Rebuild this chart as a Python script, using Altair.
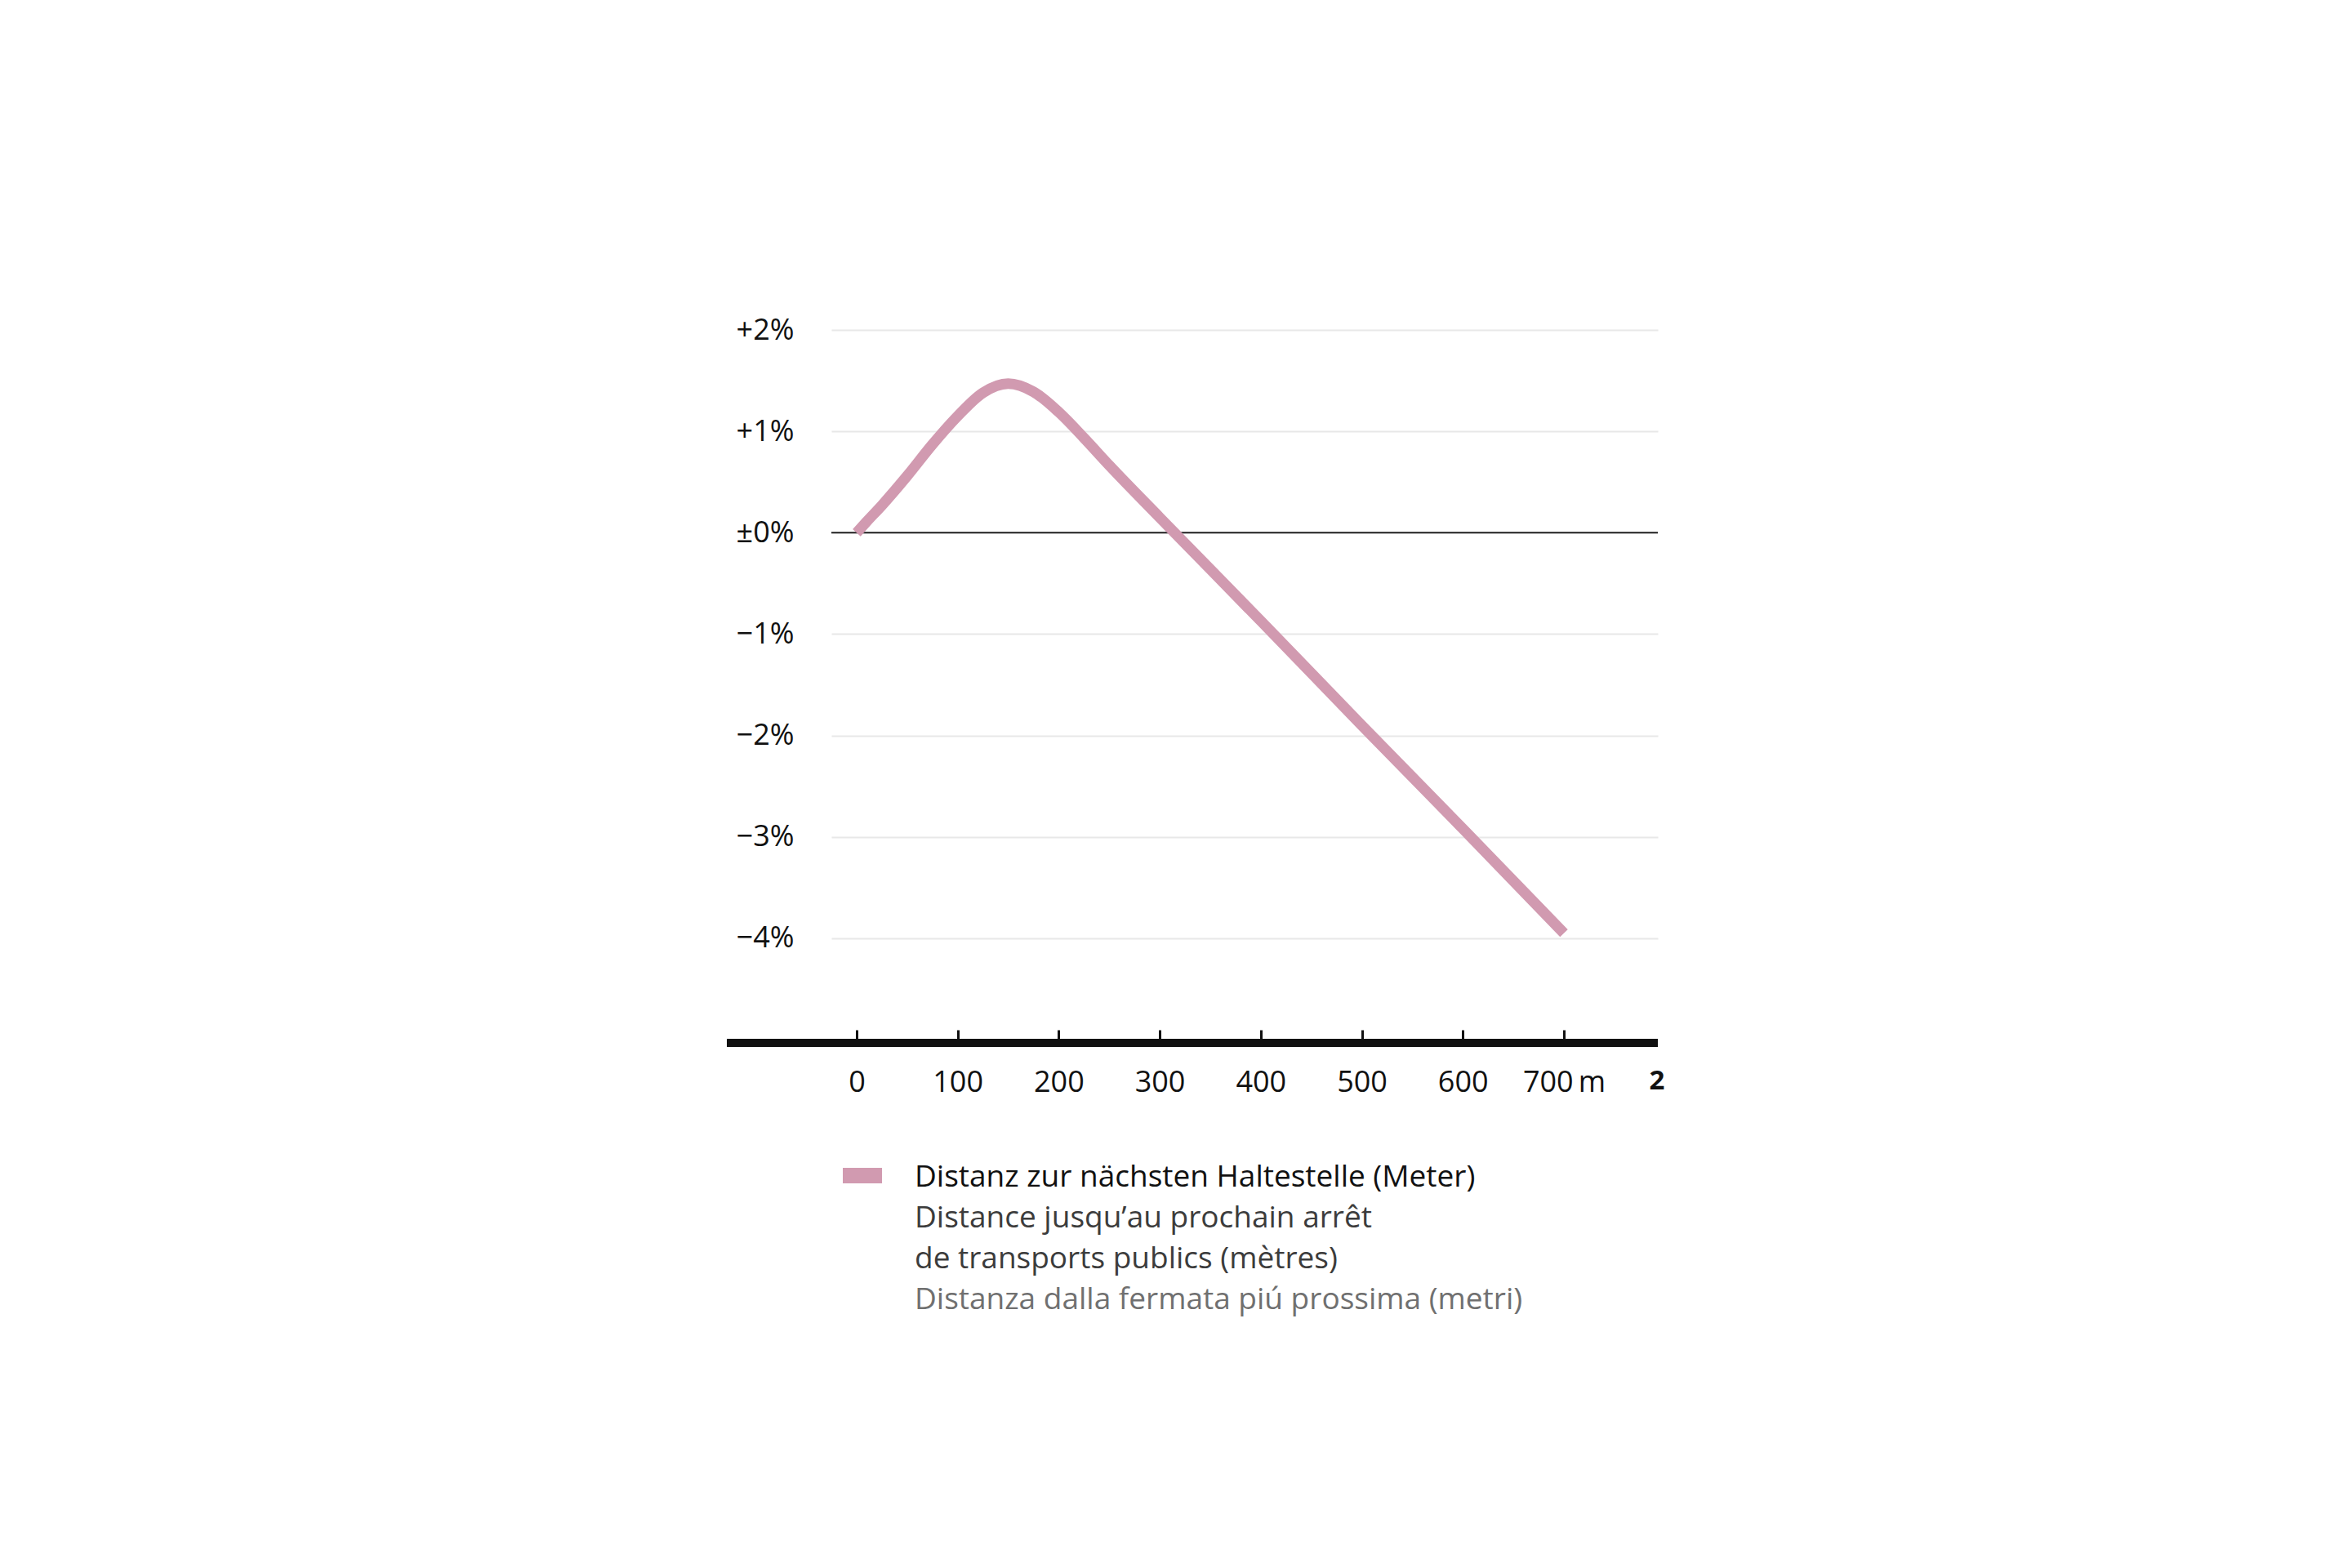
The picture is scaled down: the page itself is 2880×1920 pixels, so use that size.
import altair as alt
import pandas as pd

# ---- data ----
distance = [0, 10, 25, 50, 75, 100, 125, 150, 175, 200, 225, 250, 300, 400, 500, 600, 700]
change = [0.0, 0.11, 0.27, 0.56, 0.87, 1.15, 1.38, 1.47, 1.39, 1.19, 0.935, 0.665, 0.15, -0.87, -1.90, -2.92, -3.95]

x_ticks = [0, 100, 200, 300, 400, 500, 600, 700]
x_unit = "m"
y_ticks = [-4, -3, -2, -1, 0, 1, 2]
y_tick_labels = ["−4%", "−3%", "−2%", "−1%", "±0%", "+1%", "+2%"]

legend_lines = [
    "Distanz zur nächsten Haltestelle (Meter)",
    "Distance jusqu’au prochain arrêt",
    "de transports publics (mètres)",
    "Distanza dalla fermata piú prossima (metri)",
]
legend_colors = ["#111111", "#3c3c3c", "#3c3c3c", "#707070"]
footnote = "2"

LINE_COLOR = "#d19ab0"
FONT = "Open Sans"
FS = 36
FS_LEGEND = 37

df = pd.DataFrame({"distance": distance, "change": change})

W, H = 1012, 869
x_scale = alt.Scale(domain=[-25, 793], nice=False, zero=False)
y_scale = alt.Scale(domain=[-5, 2], nice=False, zero=False)

y_label_expr = "''"
for v, l in zip(y_ticks, y_tick_labels):
    y_label_expr = f"datum.value == {v} ? '{l}' : ({y_label_expr})"
x_label_expr = f"datum.value == {x_ticks[-1]} ? datum.label + '\u2009{x_unit}' : datum.label"

base = alt.Chart(df)

line = base.mark_line(
    color=LINE_COLOR, strokeWidth=13, interpolate="monotone", strokeCap="butt", strokeJoin="round"
).encode(
    x=alt.X(
        "distance:Q",
        scale=x_scale,
        axis=alt.Axis(
            values=x_ticks,
            title=None,
            domain=False,
            grid=False,
            ticks=True,
            tickSize=11,
            tickWidth=3,
            tickColor="#111111",
            offset=-12,
            labelPadding=36,
            labelFontSize=FS,
            labelFont=FONT,
            labelColor="#111111",
            labelExpr=x_label_expr,
        ),
    ),
    y=alt.Y(
        "change:Q",
        scale=y_scale,
        axis=alt.Axis(
            values=y_ticks,
            title=None,
            domain=False,
            ticks=False,
            tickSize=0,
            grid=True,
            gridColor="#e8e8e8",
            gridWidth=2,
            labelPadding=46,
            labelFontSize=FS,
            labelFont=FONT,
            labelColor="#111111",
            labelExpr=y_label_expr,
        ),
    ),
)

zero_rule = alt.Chart(pd.DataFrame({"y": [0]})).mark_rule(color="#222222", strokeWidth=2).encode(
    y=alt.Y("y:Q", scale=y_scale),
    x=alt.value(0),
    x2=alt.value(W),
)

axis_bar = alt.Chart(pd.DataFrame({"a": [0]})).mark_rule(color="#111111", strokeWidth=10, strokeCap="butt").encode(
    x=alt.value(-128),
    x2=alt.value(W),
    y=alt.value(H + 4),
)

note = alt.Chart(pd.DataFrame({"t": [footnote]})).mark_text(
    font=FONT, fontSize=33, fontWeight="bold", color="#111111", align="center", baseline="alphabetic"
).encode(
    x=alt.value(W - 1),
    y=alt.value(H + 61),
    text="t:N",
)

swatch = alt.Chart(pd.DataFrame({"a": [0]})).mark_rect(color=LINE_COLOR).encode(
    x=alt.value(14), x2=alt.value(62), y=alt.value(1026), y2=alt.value(1045)
)

legend_layers = []
for i, (txt, col) in enumerate(zip(legend_lines, legend_colors)):
    legend_layers.append(
        alt.Chart(pd.DataFrame({"t": [txt]})).mark_text(
            font=FONT, fontSize=FS_LEGEND, color=col, align="left", baseline="alphabetic"
        ).encode(
            x=alt.value(102),
            y=alt.value(1049 + 50 * i),
            text="t:N",
        )
    )

chart = alt.layer(zero_rule, line, axis_bar, note, swatch, *legend_layers).properties(
    width=W,
    height=H,
    background="white",
    autosize=alt.AutoSizeParams(type="none"),
    padding={"left": 1010, "top": 396, "right": 842, "bottom": 639},
).configure_view(strokeWidth=0, stroke="transparent")

chart.save("out.html", embed_options={"renderer": "svg", "actions": False})
